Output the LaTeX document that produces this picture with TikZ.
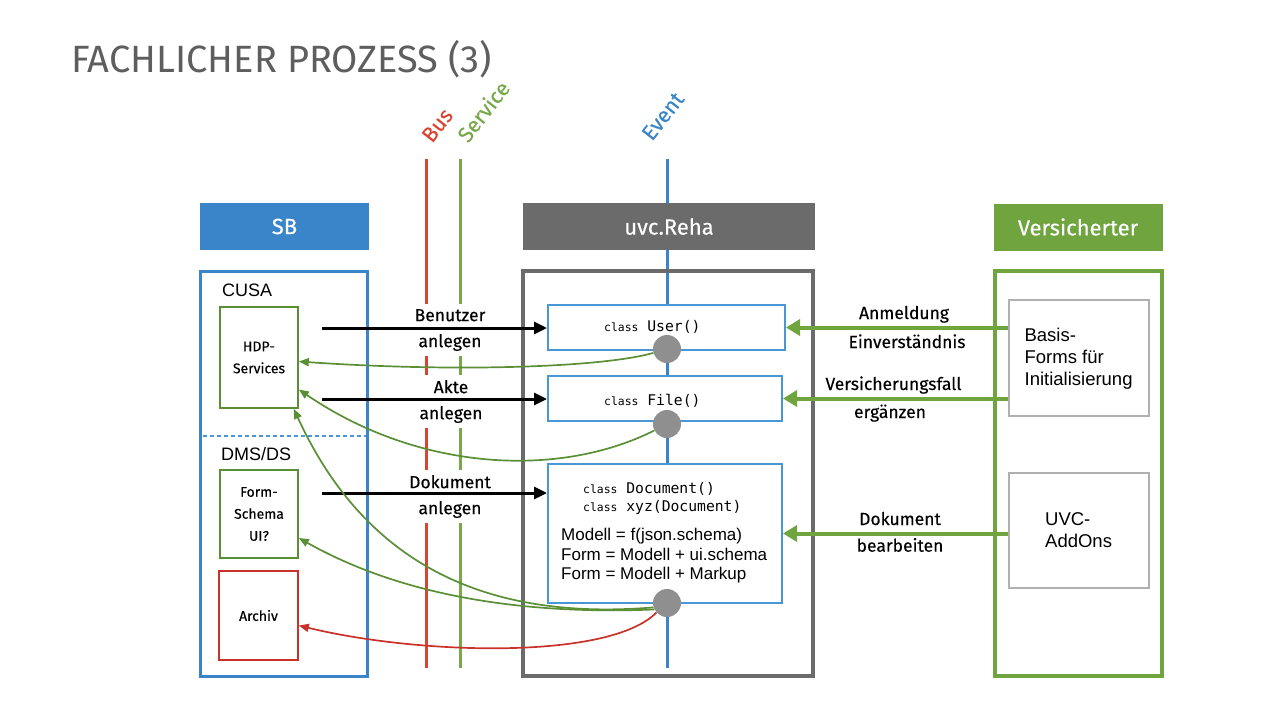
\documentclass[tikz,border=0pt]{standalone}
\usepackage{fontspec}
\setmainfont{Fira Sans}[FakeBold=0.25]
\newfontfamily\titlefont{Fira Sans}
\setmonofont{DejaVu Sans Mono}
\newfontfamily\arialfont{Liberation Sans}
\usetikzlibrary{arrows.meta}
\definecolor{sbblue}{HTML}{3A85C9}
\definecolor{boxblue}{HTML}{4A97D8}
\definecolor{rehagray}{HTML}{6B6B6B}
\definecolor{versgreen}{HTML}{70A43F}
\definecolor{linegreen}{HTML}{78A84A}
\definecolor{curvegreen}{HTML}{5A8F36}
\definecolor{busred}{HTML}{DA4430}
\definecolor{archred}{HTML}{C8322B}
\definecolor{dotgray}{HTML}{8F8F8F}
\definecolor{titlegray}{HTML}{5E5E5E}
\definecolor{formgray}{HTML}{B0B0B0}
\newcommand{\kw}{{\fontsize{11.4}{14}\selectfont class}}
\begin{document}
\begin{tikzpicture}[x=1pt,y=-1pt,
 headbox/.style={fill=#1,text=white,minimum width=169,minimum height=47,inner sep=0pt,font=\fontsize{22}{26}\selectfont},
 lanebox/.style={draw=#1,line width=3.5pt,minimum height=405,inner sep=0pt},
 itembox/.style={draw=#1,line width=1.6pt,minimum width=78,inner sep=0pt,align=center,font=\fontsize{14}{22}\selectfont},
 clsbox/.style={draw=boxblue,fill=white,line width=2pt,minimum width=234,minimum height=45,inner sep=0pt},
 hookdot/.style={circle,fill=dotgray,minimum size=28,inner sep=0pt},
 steptext/.style={fill=white,align=center,inner sep=5pt,font=\fontsize{17.5}{26}\selectfont},
 sidetext/.style={anchor=base,inner sep=0pt,font=\fontsize{17.5}{26}\selectfont},
 codetext/.style={anchor=base west,inner sep=0pt,font=\fontsize{14.7}{18}\ttfamily},
 modeltext/.style={anchor=base west,inner sep=0pt,font=\arialfont\fontsize{17}{20}\selectfont},
 flowarrow/.style={line width=3pt,-{Triangle[length=13pt,width=12pt]}},
 inarrow/.style={draw=versgreen,line width=4pt,-{Triangle[length=14pt,width=16pt]}},
 backarrow/.style={line width=1.7pt,-{Triangle[length=10pt,width=8pt]}},
 laneline/.style={line width=3pt},
 lanetext/.style={rotate=52,anchor=base west,inner sep=0pt,font=\fontsize{21.5}{24}\selectfont},
 formbox/.style={draw=formgray,line width=1.8pt,minimum width=140,inner sep=0pt,align=left,font=\arialfont\fontsize{18.5}{22}\selectfont}
]
\useasboundingbox (0,0) rectangle (1280,720);

\node[anchor=base west,inner sep=0pt,text=titlegray,font=\titlefont\fontsize{38}{46}\selectfont] (title) at (71,72) {FACHLICHER PROZESS (3)};

% lanes
\draw[laneline,draw=busred] (426,159) -- (426,668);
\draw[laneline,draw=linegreen] (460,159) -- (460,668);
\draw[laneline,draw=sbblue] (667,159) -- (667,668);
\node[lanetext,text=busred] (bus) at (432,144) {Bus};
\node[lanetext,text=linegreen] (service) at (468,144) {Service};
\node[lanetext,text=sbblue] (event) at (652,142) {Event};

% headers and frames
\node[headbox=sbblue] (sbhead) at (284.5,226.5) {SB};
\node[headbox=rehagray,minimum width=292] (uvchead) at (669,226.5) {uvc.Reha};
\node[headbox=versgreen] (vershead) at (1078,227) {Versicherter};
\node[lanebox=sbblue,minimum width=167] (sb) at (284,474) {};
\node[lanebox=rehagray,minimum width=290] (uvc) at (668,473.5) {};
\node[lanebox=versgreen,minimum width=167] (vers) at (1078.5,473.5) {};

% SB
\node[anchor=base west,inner sep=0pt,font=\arialfont\fontsize{18}{22}\selectfont] (cusa) at (222,296) {CUSA};
\node[anchor=base west,inner sep=0pt,font=\arialfont\fontsize{18}{22}\selectfont] (dms) at (221,460) {DMS/DS};
\node[itembox=curvegreen,minimum height=101] (hdp) at (259,357.5) {HDP-\\Services};
\node[itembox=curvegreen,minimum height=88] (form) at (259,514) {Form-\\Schema\\UI?};
\node[itembox=archred,minimum width=79,minimum height=89] (archiv) at (258.5,615.5) {Archiv};
\draw[draw=boxblue,line width=2pt,dash pattern=on 4pt off 3pt] (203,436) -- (366,436);

% uvc.Reha
\node[clsbox,minimum width=237] (user) at (666.5,327.5) {};
\node[clsbox] (file) at (665,398.5) {};
\node[clsbox,minimum height=139] (doc) at (665,533.5) {};
\node[codetext] (usertext) at (604,331.7) {\kw{} User()};
\node[codetext] (filetext) at (604,405) {\kw{} File()};
\node[codetext] (doctext) at (583,493.3) {\kw{} Document()};
\node[codetext] (xyztext) at (583,511.7) {\kw{} xyz(Document)};
\node[modeltext] (modA) at (561,540) {Modell = f(json.schema)};
\node[modeltext] (modB) at (561,560) {Form = Modell + ui.schema};
\node[modeltext] (modC) at (561,579.3) {Form = Modell + Markup};

% steps from SB
\node[steptext] (benutzer) at (450,330) {Benutzer\\anlegen};
\node[steptext] (akte) at (451,401.5) {Akte\\anlegen};
\node[steptext] (dokument) at (450,496.5) {Dokument\\anlegen};
\coordinate (u0) at (322,328);
\coordinate (f0) at (322,399);
\coordinate (d0) at (322,493);
\draw[flowarrow] (u0) -- (u0 -| user.west);
\draw[flowarrow] (f0) -- (f0 -| file.west);
\draw[flowarrow] (d0) -- (d0 -| doc.west);

% Versicherter
\node[formbox,minimum height=116] (basis) at (1078.6,358.3) {Basis-\\Forms für\\Initialisierung};
\node[formbox,minimum height=115] (addons) at (1078.6,530.5) {UVC-\\AddOns};
\draw[inarrow] (basis.west |- user.east) -- (user.east);
\draw[inarrow] (basis.west |- file.east) -- (file.east);
\draw[inarrow] (addons.west |- doc.east) -- (doc.east);
\node[sidetext] (anm) at (904,319) {Anmeldung};
\node[sidetext] (einv) at (907,348) {Einverständnis};
\node[sidetext] (vfall) at (893.5,390) {Versicherungsfall};
\node[sidetext] (ergz) at (890,418) {ergänzen};
\node[sidetext] (dok) at (900,525) {Dokument};
\node[sidetext] (bearb) at (900,551.7) {bearbeiten};

% events back
\node[hookdot] (uc) at (667,349) {};
\node[hookdot] (fc) at (667,424) {};
\node[hookdot] (dc) at (667,603) {};
\draw[backarrow,color=curvegreen] (uc.196) .. controls (600,368) and (450,372) .. ([yshift=-4pt]hdp.east);
\draw[backarrow,color=curvegreen] (fc.207) .. controls (560,478) and (420,472) .. ([yshift=-32pt]hdp.east);
\draw[backarrow,color=curvegreen] (dc.198) .. controls (500,620) and (370,575) .. ([xshift=-5pt]hdp.south east);
\draw[backarrow,color=curvegreen] (dc.207) .. controls (520,615) and (400,595) .. ([yshift=-24pt]form.east);
\draw[backarrow,color=archred] (dc.222) .. controls (610,660) and (420,655) .. ([yshift=-10pt]archiv.east);
\end{tikzpicture}
\end{document}
